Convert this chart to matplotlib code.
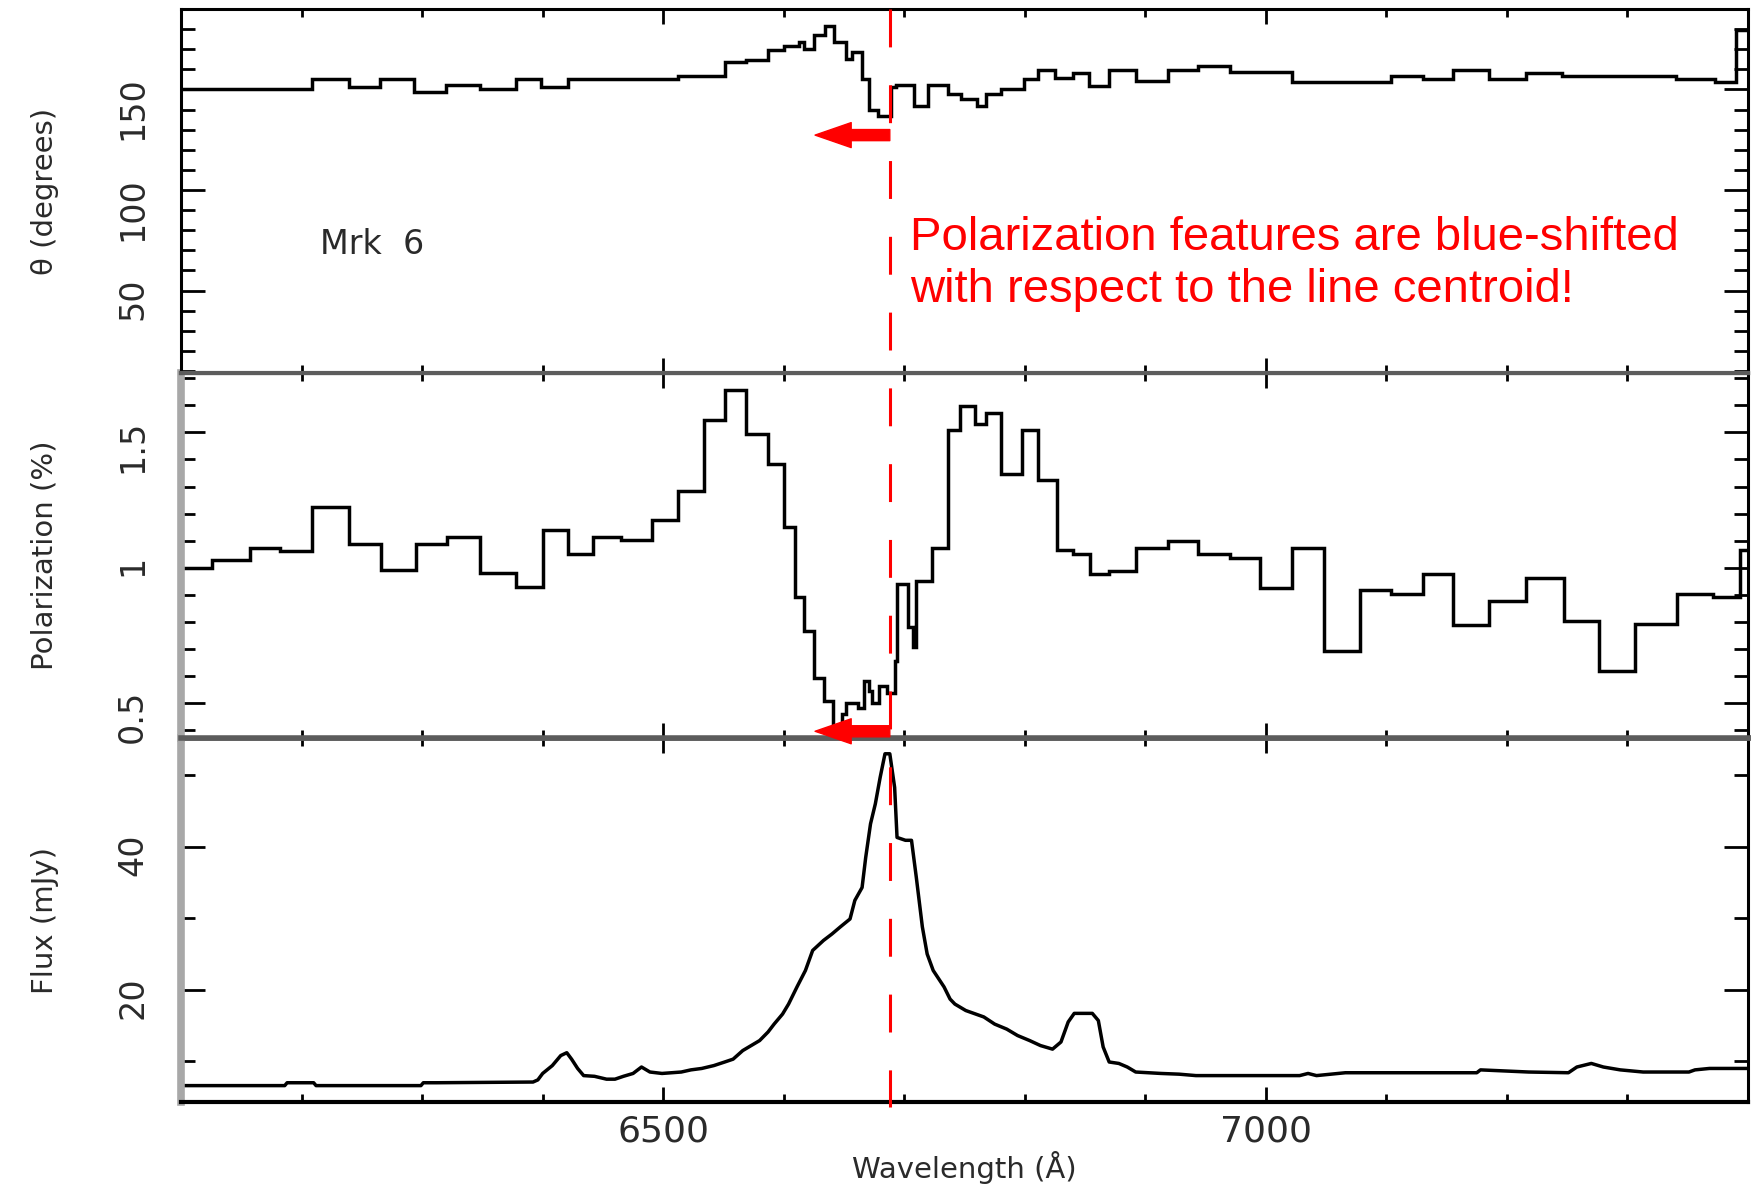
import numpy as np
import matplotlib
matplotlib.use("Agg")
import matplotlib.pyplot as plt
from matplotlib import ticker, transforms
from matplotlib.lines import Line2D
from matplotlib.patches import FancyArrowPatch


# Kat polaryzacji (stopnie) - przedzialy widma
theta_edges = [6100, 6209, 6239, 6265, 6293, 6320, 6348, 6378, 6399, 6421,
               6512, 6551, 6569, 6587, 6600, 6613, 6617, 6625, 6634, 6642,
               6652, 6657, 6665, 6671, 6678, 6689, 6693, 6708, 6720, 6736,
               6747, 6760, 6768, 6780, 6799, 6811, 6825, 6840, 6853, 6870,
               6892, 6919, 6944, 6970, 7022, 7104, 7130, 7155, 7185, 7216,
               7246, 7340, 7373, 7390, 7400]
theta_vals = [150, 155, 151.3, 155, 148.8, 152, 150, 155, 151.3, 155,
              156.6, 163.5, 164.9, 169.8, 171.5, 173.4, 170, 176.9, 181.4, 173.6,
              165, 168.5, 155, 139.8, 136.8, 151.3, 152.1, 141.7, 152.1, 147.5,
              145.5, 141.7, 147.5, 150, 155, 159.9, 155.8, 158.2, 151.6, 159.9,
              154.1, 159.9, 161.9, 158.7, 153.8, 156.6, 155, 159.9, 155, 158.2,
              156.6, 155, 153.8, 179.7]

# Stopien polaryzacji (%)
pol_edges = [6100, 6126, 6157, 6182, 6209, 6239, 6266, 6295, 6321, 6348,
             6378, 6400, 6421, 6442, 6465, 6491, 6512, 6534, 6551, 6569,
             6587, 6600, 6609, 6617, 6625, 6633, 6641, 6648, 6652, 6662,
             6667, 6671, 6673, 6679, 6686, 6692, 6694, 6703, 6707, 6710,
             6723, 6736, 6746, 6759, 6768, 6780, 6798, 6811, 6827, 6840,
             6854, 6870, 6892, 6919, 6944, 6970, 6995, 7022, 7048, 7078,
             7104, 7130, 7155, 7185, 7216, 7247, 7276, 7306, 7341, 7371,
             7393, 7400]
pol_vals = [1.0, 1.027, 1.074, 1.062, 1.226, 1.089, 0.99, 1.089, 1.112, 0.98,
            0.928, 1.139, 1.052, 1.112, 1.102, 1.176, 1.285, 1.546, 1.656, 1.496,
            1.385, 1.151, 0.89, 0.767, 0.593, 0.507, 0.40, 0.458, 0.50, 0.482,
            0.581, 0.544, 0.50, 0.562, 0.538, 0.655, 0.94, 0.78, 0.705, 0.95,
            1.074, 1.509, 1.596, 1.533, 1.571, 1.347, 1.509, 1.323, 1.065, 1.052,
            0.975, 0.988, 1.074, 1.099, 1.05, 1.037, 0.926, 1.074, 0.69, 0.916,
            0.901, 0.978, 0.789, 0.878, 0.963, 0.804, 0.618, 0.792, 0.903, 0.891,
            1.065]

# Strumien (mJy)
flux_wave = [6100, 6186, 6188, 6210, 6212, 6299, 6301, 6312, 6392, 6396,
             6400, 6408, 6415, 6420, 6424, 6429, 6434, 6443, 6453, 6460,
             6467, 6475, 6482, 6489, 6499, 6515, 6523, 6532, 6542, 6551,
             6558, 6566, 6573, 6580, 6587, 6592, 6599, 6604, 6611, 6618,
             6624, 6633, 6640, 6647, 6655, 6659, 6665, 6668, 6672, 6676,
             6680, 6684, 6688, 6692, 6694, 6701, 6706, 6710, 6715, 6719,
             6724, 6733, 6738, 6742, 6751, 6766, 6775, 6785, 6794, 6804,
             6813, 6823, 6830, 6836, 6841, 6856, 6861, 6865, 6870, 6878,
             6885, 6892, 6913, 6928, 6942, 7028, 7035, 7042, 7066, 7175,
             7178, 7218, 7251, 7258, 7270, 7280, 7294, 7313, 7351, 7356,
             7368, 7400]
flux_vals = [6.6, 6.6, 7.0, 7.0, 6.6, 6.6, 7.0, 7.0, 7.1, 7.4,
             8.3, 9.4, 10.8, 11.2, 10.3, 9.0, 8.0, 7.9, 7.5, 7.5,
             7.9, 8.3, 9.2, 8.5, 8.3, 8.5, 8.8, 9.0, 9.4, 9.9,
             10.3, 11.5, 12.2, 12.9, 14.1, 15.2, 16.6, 18.0, 20.4, 22.7,
             25.5, 26.9, 27.8, 28.8, 29.9, 32.5, 34.3, 38.5, 43.2, 46.0,
             49.7, 53.0, 53.0, 48.3, 41.3, 40.9, 40.9, 35.7, 28.8, 25.0,
             22.7, 20.4, 18.7, 18.0, 17.1, 16.2, 15.2, 14.5, 13.6, 12.9,
             12.2, 11.7, 12.7, 15.5, 16.7, 16.7, 15.7, 12.0, 9.9, 9.7,
             9.2, 8.5, 8.3, 8.2, 8.0, 8.0, 8.3, 8.0, 8.4, 8.4,
             8.8, 8.5, 8.4, 9.2, 9.7, 9.2, 8.8, 8.5, 8.5, 8.8,
             9.0, 9.0]

line_centroid = 6688
arrow_tip = 6626

SEP_GRAY = "#5c5c5c"
LEFT_GRAY = "#a8a8a8"
TXT = "#2a2a2a"

fig = plt.figure(figsize=(17.51, 11.90), dpi=100)
left, width = 0.1034, 0.8949
ax1 = fig.add_axes([left, 0.6866, width, 0.3058])
ax2 = fig.add_axes([left, 0.3798, width, 0.3068], sharex=ax1)
ax3 = fig.add_axes([left, 0.0739, width, 0.3059], sharex=ax1)
ax1.set_zorder(3)
ax2.set_zorder(2)
ax3.set_zorder(1)

ax1.stairs(theta_vals, theta_edges, baseline=None, color="black", lw=2.5)
ax2.stairs(pol_vals, pol_edges, baseline=None, color="black", lw=2.5)
ax3.plot(flux_wave, flux_vals, color="black", lw=2.5)

ax1.set_xlim(6100, 7400)
ax1.set_ylim(9, 190)
ax2.set_ylim(0.37, 1.72)
ax3.set_ylim(4.3, 55.2)

for ax in (ax1, ax2, ax3):
    ax.xaxis.set_major_locator(ticker.MultipleLocator(500))
    ax.xaxis.set_minor_locator(ticker.MultipleLocator(100))
    ax.tick_params(axis="x", which="both", direction="in", top=True, bottom=True,
                   width=2, colors="black", labelcolor=TXT, labelsize=26, pad=9)
    ax.tick_params(axis="x", which="major", length=11)
    ax.tick_params(axis="x", which="minor", length=6)
    ax.tick_params(axis="y", which="both", direction="in", left=True, right=True,
                   width=2, colors="black", labelcolor=TXT, labelsize=24,
                   labelrotation=90, pad=23)
    ax.tick_params(axis="y", which="major", length=17)
    ax.tick_params(axis="y", which="minor", length=10)
    for s in ax.spines.values():
        s.set_linewidth(2.2)
        s.set_color("black")

ax1.tick_params(labelbottom=False)
ax2.tick_params(labelbottom=False)

ax1.yaxis.set_major_locator(ticker.FixedLocator([50, 100, 150]))
ax1.yaxis.set_minor_locator(ticker.MultipleLocator(10))
ax2.yaxis.set_major_locator(ticker.FixedLocator([0.5, 1.0, 1.5]))
ax2.yaxis.set_minor_locator(ticker.MultipleLocator(0.1))
ax2.yaxis.set_major_formatter(ticker.FormatStrFormatter("%g"))
ax3.yaxis.set_major_locator(ticker.FixedLocator([20, 40]))
ax3.yaxis.set_minor_locator(ticker.MultipleLocator(10))

# krawedzie paneli
ax1.spines["bottom"].set_color(SEP_GRAY)
ax1.spines["bottom"].set_linewidth(3)
ax2.spines["top"].set_color(SEP_GRAY)
ax2.spines["top"].set_linewidth(3)
ax2.spines["bottom"].set_color(SEP_GRAY)
ax2.spines["bottom"].set_linewidth(4)
ax3.spines["top"].set_color(SEP_GRAY)
ax3.spines["top"].set_linewidth(4)
for ax in (ax2, ax3):
    ax.spines["left"].set_color(LEFT_GRAY)
    ax.spines["left"].set_linewidth(5.5)
ax3.spines["bottom"].set_linewidth(3)

ax1.set_ylabel("θ (degrees)", fontsize=21, color=TXT)
ax2.set_ylabel("Polarization (%)", fontsize=21, color=TXT)
ax3.set_ylabel("Flux (mJy)", fontsize=21, color=TXT)
for ax in (ax1, ax2, ax3):
    ax.yaxis.set_label_coords(-0.078, 0.5)
ax3.set_xlabel("Wavelength (Å)", fontsize=21, color=TXT)
ax3.xaxis.set_label_coords(0.5, -0.135)

ax1.text(6215, 72.7, "Mrk  6", fontsize=24, color=TXT, va="center")

ax1.text(6705, 63.3,
         "Polarization features are blue-shifted\nwith respect to the line centroid!",
         color="red", fontsize=34, family="Liberation Sans", va="center",
         ha="left", linespacing=1.25)

# strzalki przesuniecia
for ax, yy in ((ax1, 127.3), (ax2, 0.395)):
    arr = FancyArrowPatch((line_centroid, yy), (arrow_tip, yy),
                          arrowstyle="simple,head_length=26,head_width=18,tail_width=8",
                          mutation_scale=1, color="red", shrinkA=0, shrinkB=0,
                          clip_on=False, zorder=10)
    ax.add_patch(arr)

# linia centroidu przez wszystkie panele
trans = transforms.blended_transform_factory(ax3.transData, fig.transFigure)
fig.lines.append(Line2D([line_centroid, line_centroid], [0.9924, 0.0697],
                        transform=trans, color="red", lw=2.2,
                        linestyle=(0, (12.4, 12.4)), zorder=20, figure=fig))

fig.savefig("out.png", dpi=100, facecolor="white")
